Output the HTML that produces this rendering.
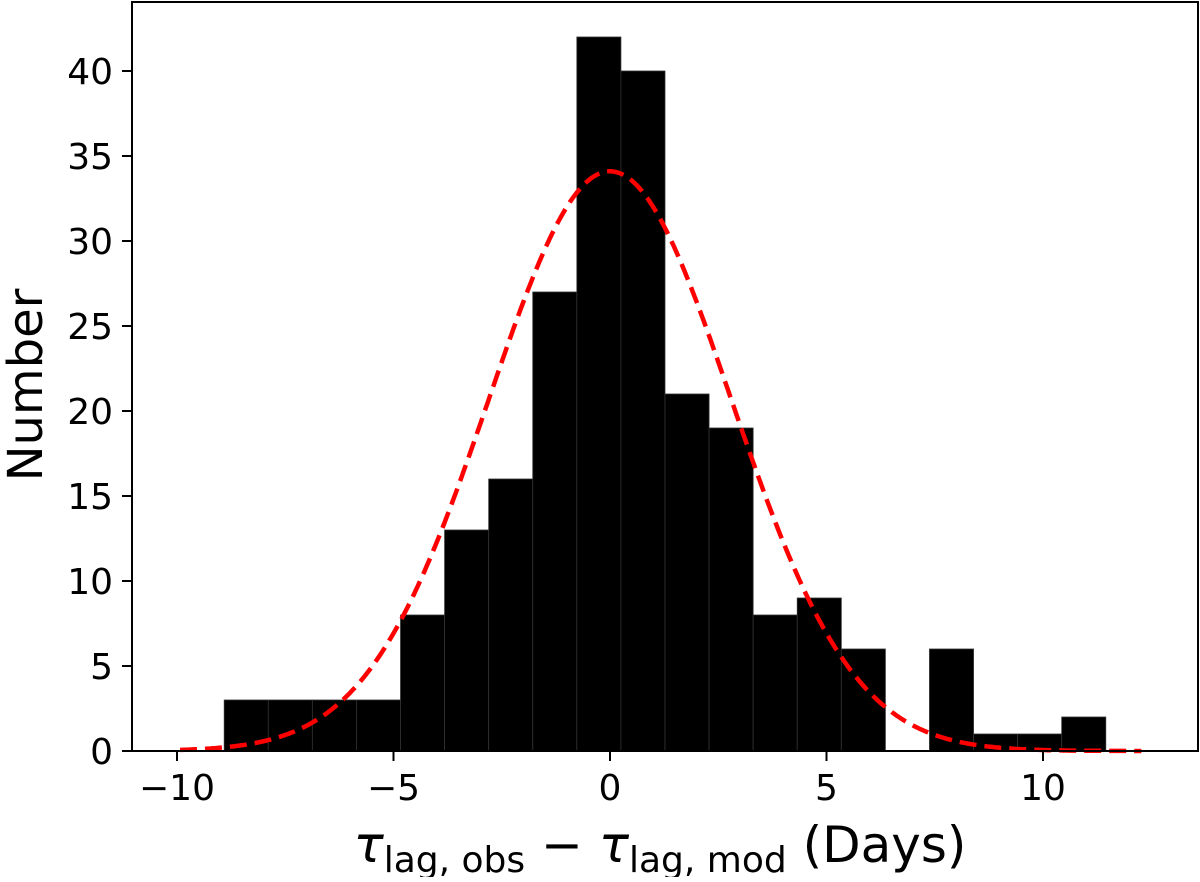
<!DOCTYPE html>
<html><head><meta charset="utf-8"><style>
html,body{margin:0;padding:0;background:#fff;}
svg text{font-family:"DejaVu Sans","Liberation Sans",sans-serif;fill:#000;}
</style></head><body>
<svg id="chart" width="1200" height="877" xmlns="http://www.w3.org/2000/svg">
<g id="bars"></g>
<path id="fit" fill="none" stroke="#ff0000" stroke-width="4.5" stroke-dasharray="17,8"></path>
<rect x="132" y="2" width="1066" height="749" fill="none" stroke="#000" stroke-width="2"/>
<g id="xticks"></g>
<g id="yticks"></g>
<text transform="translate(42,385) rotate(-90)" text-anchor="middle" font-size="48">Number</text>
<text x="660" y="862" text-anchor="middle" font-size="50"><tspan font-style="italic">τ</tspan><tspan font-size="36" dy="10">lag, obs</tspan><tspan dy="-10"> − </tspan><tspan font-style="italic">τ</tspan><tspan font-size="36" dy="10">lag, mod</tspan><tspan dy="-10"> (Days)</tspan></text>
</svg>
<script>
const binStart = -8.91;
const binWidth = 1.018;
const counts = [3,3,3,3,8,13,16,27,42,40,21,19,8,9,6,0,6,1,1,2];
const fitAmp = 34.1, fitMu = 0.0, fitSigma = 2.8;
const fitRange = [-9.93, 12.3];
const xTicks = [-10,-5,0,5,10];
const xTickLabels = ["−10","−5","0","5","10"];
const yTicks = [0,5,10,15,20,25,30,35,40];

const X = v => 610 + v*43.3;
const Y = v => 751 - v*17;
const ns = "http://www.w3.org/2000/svg";
const bars = document.getElementById('bars');
counts.forEach((c,i)=>{
  if(!c) return;
  const r = document.createElementNS(ns,'rect');
  const x0 = X(binStart+i*binWidth), x1 = X(binStart+(i+1)*binWidth);
  r.setAttribute('x',x0); r.setAttribute('width',x1-x0);
  r.setAttribute('y',Y(c)); r.setAttribute('height',Y(0)-Y(c));
  r.setAttribute('fill','#000'); r.setAttribute('stroke','#333'); r.setAttribute('stroke-width','0.8');
  
  
  bars.appendChild(r);
});
let d = '';
for(let v=fitRange[0]; v<=fitRange[1]; v+=0.05){
  const y = fitAmp*Math.exp(-((v-fitMu)**2)/(2*fitSigma*fitSigma));
  d += (d?'L':'M') + X(v).toFixed(1) + ',' + Y(y).toFixed(1);
}
document.getElementById('fit').setAttribute('d', d);
const xt = document.getElementById('xticks');
xTicks.forEach((t,i)=>{
  const l = document.createElementNS(ns,'line');
  l.setAttribute('x1',X(t)); l.setAttribute('x2',X(t)); l.setAttribute('y1',751); l.setAttribute('y2',761);
  l.setAttribute('stroke','#000'); l.setAttribute('stroke-width','2');
  
  
  xt.appendChild(l);
  const tx = document.createElementNS(ns,'text');
  tx.setAttribute('x',X(t)); tx.setAttribute('y',800); tx.setAttribute('text-anchor','middle'); tx.setAttribute('font-size','36');
  tx.textContent = xTickLabels[i];
  
  
  xt.appendChild(tx);
});
const yt = document.getElementById('yticks');
yTicks.forEach(t=>{
  const l = document.createElementNS(ns,'line');
  l.setAttribute('x1',122); l.setAttribute('x2',132); l.setAttribute('y1',Y(t)); l.setAttribute('y2',Y(t));
  l.setAttribute('stroke','#000'); l.setAttribute('stroke-width','2');
  
  
  yt.appendChild(l);
  const tx = document.createElementNS(ns,'text');
  tx.setAttribute('x',113); tx.setAttribute('y',Y(t)+13); tx.setAttribute('text-anchor','end'); tx.setAttribute('font-size','36');
  tx.textContent = t;
  
  
  yt.appendChild(tx);
});
</script>
</body></html>
